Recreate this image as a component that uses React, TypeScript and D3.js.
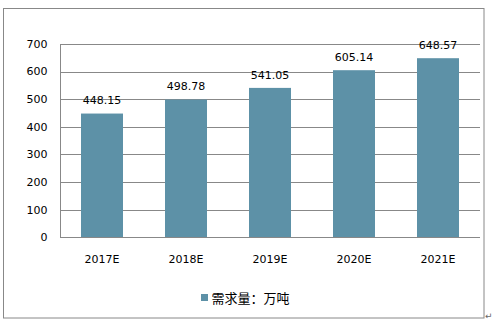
import React from "react";
import * as d3 from "d3";

const categories = ["2017E", "2018E", "2019E", "2020E", "2021E"];
const values = [448.15, 498.78, 541.05, 605.14, 648.57];
const yTicks = [0, 100, 200, 300, 400, 500, 600, 700];
const legendLabel = "需求量：万吨";

export default function App() {
  const W = 493, H = 323;
  const left = 60, right = 480, top = 44, bottom = 237.3;
  const x = d3.scaleBand<string>().domain(categories).range([left, right]).paddingInner(0.5).paddingOuter(0.25);
  const y = d3.scaleLinear().domain([0, 700]).range([bottom, top]);
  const font = "'DejaVu Sans', Verdana, sans-serif";
  const color = "#5d91a7";
  return (
    <div style={{ position: "fixed", left: 0, top: 0 }}>
      <svg width={W} height={H} style={{ display: "block" }} fontFamily={font}>
        <rect x={0} y={0} width={W} height={H} fill="#fff" />
        <rect x={3.5} y={8.5} width={480.5} height={309.5} fill="none" stroke="#888" strokeWidth={1} />
        {yTicks.map((t) => (
          <g key={t}>
            {t > 0 && (
              <line x1={left} x2={right} y1={Math.round(y(t)) + 0.5} y2={Math.round(y(t)) + 0.5} stroke="#888" strokeWidth={1} />
            )}
            <text x={47.5} y={y(t)} dy="0.35em" textAnchor="end" fontSize={11} fill="#000">{t}</text>
          </g>
        ))}
        {categories.map((c, i) => (
          <g key={c}>
            <rect x={x(c)} y={y(values[i])} width={x.bandwidth()} height={bottom - y(values[i])} fill={color} />
            <text x={x(c)! + x.bandwidth() / 2} y={y(values[i]) - 13} dy="0.35em" textAnchor="middle" fontSize={11} fill="#000">
              {values[i].toFixed(2)}
            </text>
            <text x={x(c)! + x.bandwidth() / 2} y={259} dy="0.35em" textAnchor="middle" fontSize={11} fill="#000">{c}</text>
          </g>
        ))}
        <line x1={left + 0.5} x2={left + 0.5} y1={top} y2={bottom} stroke="#888" strokeWidth={1} />
        <line x1={left} x2={right} y1={Math.round(bottom) + 0.5} y2={Math.round(bottom) + 0.5} stroke="#888" strokeWidth={1} />
        <rect x={201} y={294} width={7} height={7} fill={color} />
        <text x={211.5} y={298} dy="0.35em" fontSize={13} fill="#000" fontFamily="'Noto Sans CJK SC', sans-serif">{legendLabel}</text>
        <text x={485} y={319} fontSize={9} fill="#666">↵</text>
      </svg>
    </div>
  );
}
